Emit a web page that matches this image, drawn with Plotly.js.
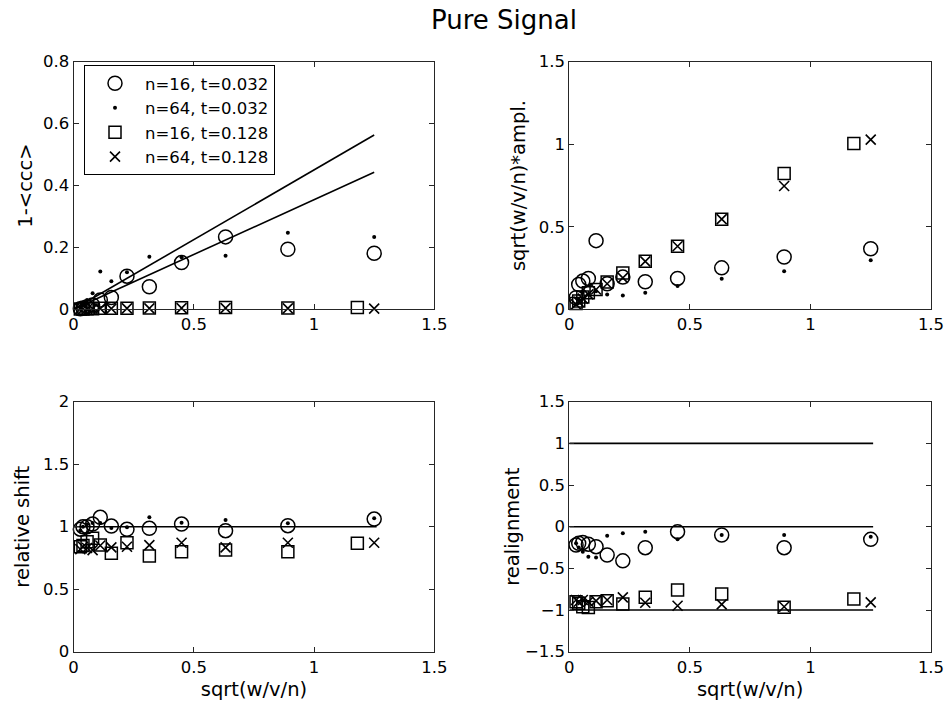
<!DOCTYPE html>
<html>
<head>
<meta charset="utf-8">
<script src="https://cdn.plot.ly/plotly-3.0.1.min.js"></script>
<style>html,body{margin:0;padding:0;background:#fff;}#chart{width:948px;height:710px;}</style>
</head>
<body>
<div id="chart"></div>
<script>
// ---- data ----
const seriesNames = ["n=16, t=0.032", "n=64, t=0.032", "n=16, t=0.128", "n=64, t=0.128"];
const xCommon = [0.028, 0.039, 0.056, 0.079, 0.111, 0.157, 0.222, 0.315, 0.449, 0.632, 0.891, 1.25];
const xSquare = [0.028, 0.039, 0.056, 0.079, 0.111, 0.157, 0.222, 0.315, 0.449, 0.632, 0.891, 1.18];

// panel 1: 1-<ccc>
const ccc_n16_t032 = [0.002, 0.004, 0.008, 0.014, 0.03, 0.038, 0.107, 0.073, 0.151, 0.234, 0.194, 0.181];
const ccc_n64_t032 = [0.005, 0.012, 0.03, 0.052, 0.122, 0.091, 0.12, 0.17, 0.168, 0.173, 0.247, 0.234];
const ccc_n16_t128 = [0.001, 0.001, 0.002, 0.002, 0.003, 0.003, 0.003, 0.004, 0.005, 0.006, 0.004, 0.006];
const ccc_n64_t128 = [0.001, 0.001, 0.001, 0.002, 0.002, 0.002, 0.003, 0.003, 0.004, 0.004, 0.003, 0.002];
const fitX = [0, 1.25];
const fitUpper = [0, 0.563];
const fitLower = [0, 0.443];

// panel 2: sqrt(w/v/n)*ampl.
const amp_n16_t032 = [0.07, 0.15, 0.171, 0.187, 0.416, 0.155, 0.195, 0.167, 0.187, 0.251, 0.317, 0.367];
const amp_n64_t032 = [0.03, 0.06, 0.1, 0.09, 0.11, 0.09, 0.084, 0.1, 0.141, 0.185, 0.231, 0.297];
const amp_n16_t128 = [0.035, 0.05, 0.075, 0.1, 0.12, 0.165, 0.22, 0.291, 0.382, 0.546, 0.823, 1.004];
const amp_n64_t128 = [0.03, 0.045, 0.065, 0.09, 0.12, 0.155, 0.19, 0.29, 0.382, 0.546, 0.747, 1.028];

// panel 3: relative shift
const shift_n16_t032 = [0.98, 1.0, 1.0, 1.021, 1.075, 1.005, 0.979, 0.987, 1.021, 0.968, 1.008, 1.061];
const shift_n64_t032 = [0.97, 1.0, 1.02, 1.03, 1.03, 0.99, 0.995, 1.075, 1.032, 1.053, 1.027, 1.067];
const shift_n16_t128 = [0.84, 0.85, 0.88, 0.907, 0.853, 0.787, 0.872, 0.765, 0.8, 0.813, 0.8, 0.867];
const shift_n64_t128 = [0.82, 0.84, 0.83, 0.813, 0.85, 0.835, 0.84, 0.853, 0.872, 0.835, 0.872, 0.872];
const shiftRefX = [0, 1.26];
const shiftRef = [1, 1];

// panel 4: realignment
const real_n16_t032 = [-0.22, -0.2, -0.19, -0.21, -0.24, -0.34, -0.41, -0.252, -0.06, -0.1, -0.252, -0.152];
const real_n64_t032 = [-0.2, -0.25, -0.3, -0.36, -0.37, -0.11, -0.08, -0.06, -0.15, -0.1, -0.1, -0.12];
const real_n16_t128 = [-0.9, -0.92, -0.96, -0.97, -0.9, -0.888, -0.928, -0.848, -0.76, -0.808, -0.968, -0.868];
const real_n64_t128 = [-0.88, -0.9, -0.88, -0.9, -0.89, -0.88, -0.848, -0.912, -0.948, -0.932, -0.96, -0.908];
const realRefX = [0, 1.26];
const realRefs = [1, 0, -1];

// ---- styling ----
const FONT = "DejaVu Sans, Liberation Sans, Arial, sans-serif";
const styles = [
  {symbol: "circle-open", size: 14, line: {color: "black", width: 1.5}, color: "black"},
  {symbol: "circle", size: 4, color: "black", line: {width: 0}},
  {symbol: "square-open", size: 12, line: {color: "black", width: 1.5}, color: "black"},
  {symbol: "x-thin-open", size: 10, line: {color: "black", width: 1.6}, color: "black"}
];

function pts(x, y, i, xa, ya, legend) {
  return {type: "scatter", mode: "markers", x: x, y: y, name: seriesNames[i],
    marker: styles[i], xaxis: xa, yaxis: ya, showlegend: legend,
    cliponaxis: false, hoverinfo: "skip"};
}
function line(x, y, xa, ya) {
  return {type: "scatter", mode: "lines", x: x, y: y, xaxis: xa, yaxis: ya,
    line: {color: "black", width: 1.6}, showlegend: false, hoverinfo: "skip"};
}

const traces = [
  pts(xCommon, ccc_n16_t032, 0, "x", "y", true),
  pts(xCommon, ccc_n64_t032, 1, "x", "y", true),
  pts(xSquare, ccc_n16_t128, 2, "x", "y", true),
  pts(xCommon, ccc_n64_t128, 3, "x", "y", true),
  line(fitX, fitUpper, "x", "y"),
  line(fitX, fitLower, "x", "y"),

  pts(xCommon, amp_n16_t032, 0, "x2", "y2", false),
  pts(xCommon, amp_n64_t032, 1, "x2", "y2", false),
  pts(xSquare, amp_n16_t128, 2, "x2", "y2", false),
  pts(xCommon, amp_n64_t128, 3, "x2", "y2", false),

  line(shiftRefX, shiftRef, "x3", "y3"),
  pts(xCommon, shift_n16_t032, 0, "x3", "y3", false),
  pts(xCommon, shift_n64_t032, 1, "x3", "y3", false),
  pts(xSquare, shift_n16_t128, 2, "x3", "y3", false),
  pts(xCommon, shift_n64_t128, 3, "x3", "y3", false)
];
realRefs.forEach(v => traces.push(line(realRefX, [v, v], "x4", "y4")));
traces.push(
  pts(xCommon, real_n16_t032, 0, "x4", "y4", false),
  pts(xCommon, real_n64_t032, 1, "x4", "y4", false),
  pts(xSquare, real_n16_t128, 2, "x4", "y4", false),
  pts(xCommon, real_n64_t128, 3, "x4", "y4", false)
);

const W = 948, H = 710;
const xL = [73.6 / W, 434.3 / W], xR = [569.3 / W, 931 / W];
const yT = [1 - 309.3 / H, 1 - 61.7 / H], yB = [1 - 651.7 / H, 1 - 401.7 / H];

function ax(domain, anchor, range, dtick, title, standoff) {
  const a = {domain: domain, anchor: anchor, range: range, dtick: dtick, tick0: 0,
    showgrid: false, zeroline: false, showline: true, mirror: "ticks",
    linecolor: "#262626", linewidth: 1, ticks: "inside", ticklen: 5, tickcolor: "#262626",
    tickfont: {family: FONT, size: 16.5, color: "black"}, automargin: false, fixedrange: true};
  if (title) a.title = {text: title, font: {family: FONT, size: 19.5, color: "black"}, standoff: standoff};
  return a;
}

const layout = {
  width: W, height: H,
  margin: {l: 0, r: 0, t: 0, b: 0},
  paper_bgcolor: "white", plot_bgcolor: "white",
  font: {family: FONT, color: "black"},
  title: {text: "Pure Signal", font: {family: FONT, size: 26, color: "black"},
    x: 504 / W, xanchor: "center", y: 1 - 20 / H, yanchor: "middle"},
  xaxis: ax(xL, "y", [0, 1.5], 0.5),
  yaxis: ax(yT, "x", [0, 0.8], 0.2, "1-&lt;ccc&gt;", 5),
  xaxis2: ax(xR, "y2", [0, 1.5], 0.5),
  yaxis2: ax(yT, "x2", [0, 1.5], 0.5, "sqrt(w/v/n)*ampl.", 7),
  xaxis3: ax(xL, "y3", [0, 1.5], 0.5, "sqrt(w/v/n)", 6),
  yaxis3: ax(yB, "x3", [0, 2], 0.5, "relative shift", 8),
  xaxis4: ax(xR, "y4", [0, 1.5], 0.5, "sqrt(w/v/n)", 6),
  yaxis4: ax(yB, "x4", [-1.5, 1.5], 0.5, "realignment", 0),
  showlegend: true,
  legend: {x: 84 / W, y: 1 - 65 / H, xanchor: "left", yanchor: "top",
    bgcolor: "white", bordercolor: "black", borderwidth: 1,
    font: {family: FONT, size: 16.5, color: "black"}, itemwidth: 50,
    tracegroupgap: 0, itemclick: false, itemdoubleclick: false}
};

Plotly.newPlot("chart", traces, layout, {staticPlot: true, displayModeBar: false});
</script>
</body>
</html>
